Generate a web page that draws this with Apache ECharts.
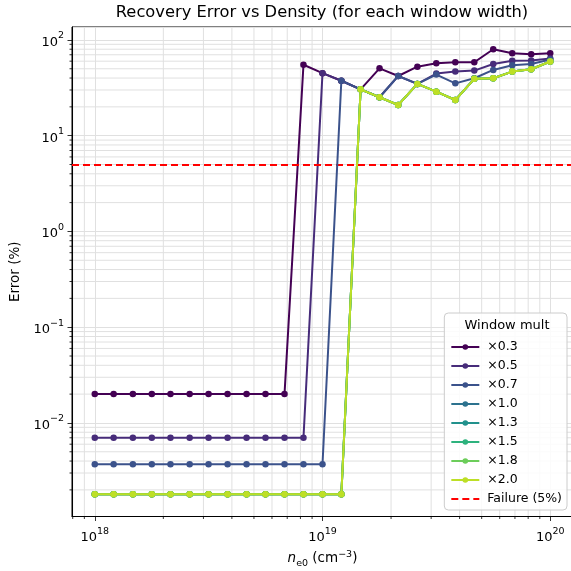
<!DOCTYPE html>
<html>
<head>
<meta charset="utf-8">
<script src="https://cdn.jsdelivr.net/npm/echarts@6/dist/echarts.min.js"></script>
<style>html,body{margin:0;padding:0;background:#fff}#c{width:571px;height:571px}</style>
</head>
<body>
<div id="c"></div>
<script>
// ---- data ----
const densities = [1e18, 1.21e18, 1.47e18, 1.78e18, 2.15e18, 2.61e18, 3.16e18, 3.83e18, 4.64e18, 5.62e18, 6.81e18, 8.25e18,
  1e19, 1.21e19, 1.47e19, 1.78e19, 2.15e19, 2.61e19, 3.16e19, 3.83e19, 4.64e19, 5.62e19, 6.81e19, 8.25e19, 1e20];
const seriesNames = ['×0.3', '×0.5', '×0.7', '×1.0', '×1.3', '×1.5', '×1.8', '×2.0'];
const err03 = [0.02, 0.02, 0.02, 0.02, 0.02, 0.02, 0.02, 0.02, 0.02, 0.02, 0.02, 55, 45, 37.5, 30.5, 50.5, 42, 52.5, 57, 58.5, 58.5, 80, 72.5, 71, 72.5];
const err05 = [0.007, 0.007, 0.007, 0.007, 0.007, 0.007, 0.007, 0.007, 0.007, 0.007, 0.007, 0.007, 45, 37.5, 30.5, 25.2, 42, 34.7, 44.5, 46.7, 47.8, 56, 60.5, 61, 64];
const err07 = [0.0037, 0.0037, 0.0037, 0.0037, 0.0037, 0.0037, 0.0037, 0.0037, 0.0037, 0.0037, 0.0037, 0.0037, 0.0037, 37.5, 30.5, 25.2, 42, 34.7, 43.5, 35.2, 39.8, 48.6, 54.5, 56, 62.5];
const err10 = [0.0018, 0.0018, 0.0018, 0.0018, 0.0018, 0.0018, 0.0018, 0.0018, 0.0018, 0.0018, 0.0018, 0.0018, 0.0018, 0.0018, 30.5, 25.2, 20.9, 34.7, 28.8, 23.6, 39.2, 39.8, 46.7, 49.4, 59.5];
const err13 = [0.0018, 0.0018, 0.0018, 0.0018, 0.0018, 0.0018, 0.0018, 0.0018, 0.0018, 0.0018, 0.0018, 0.0018, 0.0018, 0.0018, 30.5, 25.2, 20.9, 34.7, 28.8, 23.6, 39.2, 39.8, 46.7, 49.4, 59.5];
const err15 = [0.0018, 0.0018, 0.0018, 0.0018, 0.0018, 0.0018, 0.0018, 0.0018, 0.0018, 0.0018, 0.0018, 0.0018, 0.0018, 0.0018, 30.5, 25.2, 20.9, 34.7, 28.8, 23.6, 39.2, 39.8, 46.7, 49.4, 59.5];
const err18 = [0.0018, 0.0018, 0.0018, 0.0018, 0.0018, 0.0018, 0.0018, 0.0018, 0.0018, 0.0018, 0.0018, 0.0018, 0.0018, 0.0018, 30.5, 25.2, 20.9, 34.7, 28.8, 23.6, 39.2, 39.8, 46.7, 49.4, 59.5];
const err20 = [0.0018, 0.0018, 0.0018, 0.0018, 0.0018, 0.0018, 0.0018, 0.0018, 0.0018, 0.0018, 0.0018, 0.0018, 0.0018, 0.0018, 30.5, 25.2, 20.9, 34.7, 28.8, 23.6, 39.2, 39.8, 46.7, 49.4, 59.5];
const failureThreshold = 5;
const xMinorTicks = [8e17, 9e17, 2e18, 3e18, 4e18, 5e18, 6e18, 7e18, 8e18, 9e18, 2e19, 3e19, 4e19, 5e19, 6e19, 7e19, 8e19, 9e19];
const yMinorTicks = [2e-3, 3e-3, 4e-3, 5e-3, 6e-3, 7e-3, 8e-3, 9e-3, 2e-2, 3e-2, 4e-2, 5e-2, 6e-2, 7e-2, 8e-2, 9e-2,
  0.2, 0.3, 0.4, 0.5, 0.6, 0.7, 0.8, 0.9, 2, 3, 4, 5, 6, 7, 8, 9, 20, 30, 40, 50, 60, 70, 80, 90];
const xMin = Math.pow(10, 17.9), xMax = Math.pow(10, 20.1);
const yMin = Math.pow(10, -2.977), yMax = Math.pow(10, 2.135);

// ---- styling ----
const FONT = 'DejaVu Sans';
const colors = ['#440154', '#472c7a', '#3b528b', '#2c728e', '#21918c', '#2db27d', '#6ccd5a', '#bddf26'];
const GRIDC = '#e0e0e0';
const allErr = [err03, err05, err07, err10, err13, err15, err18, err20];

function powLabel(v) {
  const e = Math.log10(v);
  const r = Math.round(e);
  if (Math.abs(e - r) > 1e-6) return '';
  const s = r < 0 ? '\u2212' + (-r) : String(r);
  return '{b|10}{s|' + s + '}';
}
const richPow = {
  b: { fontSize: 13, fontFamily: FONT, color: '#000', lineHeight: 18, verticalAlign: 'bottom' },
  s: { fontSize: 9.5, fontFamily: FONT, color: '#000', lineHeight: 11, verticalAlign: 'top' }
};

function minorX(params, api) {
  const v = api.value(0);
  const p = api.coord([v, 1]);
  const cs = params.coordSys;
  const b = cs.y + cs.height;
  return { type: 'group', children: [
    { type: 'line', shape: { x1: p[0], y1: cs.y, x2: p[0], y2: b }, style: { stroke: GRIDC, lineWidth: 1 } },
    { type: 'line', shape: { x1: p[0], y1: b, x2: p[0], y2: b + 2.5 }, style: { stroke: '#000', lineWidth: 0.8 } }
  ] };
}
function minorY(params, api) {
  const v = api.value(1);
  const p = api.coord([1e19, v]);
  const cs = params.coordSys;
  return { type: 'group', children: [
    { type: 'line', shape: { x1: cs.x, y1: p[1], x2: cs.x + cs.width, y2: p[1] }, style: { stroke: GRIDC, lineWidth: 1 } },
    { type: 'line', shape: { x1: cs.x, y1: p[1], x2: cs.x - 2.5, y2: p[1] }, style: { stroke: '#000', lineWidth: 0.8 } }
  ] };
}

const series = [
  { type: 'custom', name: 'xminor', data: xMinorTicks.map(v => [v, 1]), renderItem: minorX, clip: false, silent: true, z: 0, encode: { x: 0, y: 1 } },
  { type: 'custom', name: 'yminor', data: yMinorTicks.map(v => [1e19, v]), renderItem: minorY, clip: false, silent: true, z: 0, encode: { x: 0, y: 1 } }
];
seriesNames.forEach((n, k) => {
  series.push({
    type: 'line', name: n,
    data: densities.map((d, i) => [d, allErr[k][i]]),
    symbol: 'circle', symbolSize: 6.5, showSymbol: true,
    lineStyle: { width: 2, color: colors[k] },
    itemStyle: { color: colors[k] },
    z: 3 + k
  });
});
series.push({
  type: 'line', name: 'Failure (5%)', data: [], symbol: 'none',
  lineStyle: { color: '#ff0000', type: [7, 4], width: 2 },
  itemStyle: { color: '#ff0000' },
  markLine: {
    silent: true, symbol: 'none', label: { show: false },
    lineStyle: { color: '#ff0000', type: [7, 4], width: 2 },
    data: [{ yAxis: failureThreshold }]
  },
  z: 2
});

const legendData = seriesNames.map(n => ({ name: n }));
legendData.push({ name: 'Failure (5%)', icon: 'path://M0,0h7v2h-7z M11,0h7v2h-7z M22,0h6v2h-6z', itemStyle: { color: '#ff0000' } });

const chart = echarts.init(document.getElementById('c'), null, { renderer: 'canvas' });
chart.setOption({
  animation: false,
  backgroundColor: '#ffffff',
  textStyle: { fontFamily: FONT },
  title: [
    { text: 'Recovery Error vs Density (for each window width)', left: 322, top: 5, textAlign: 'center', padding: 0,
      textStyle: { fontFamily: FONT, fontSize: 16.3, fontWeight: 'normal', color: '#000' } },
    { text: 'Window mult', left: 507, top: 319, textAlign: 'center', padding: 0, z: 10,
      textStyle: { fontFamily: FONT, fontSize: 13, fontWeight: 'normal', color: '#000' } }
  ],
  grid: { left: 72, right: -2, top: 27, bottom: 54.5, show: true, borderColor: '#000', borderWidth: 1, backgroundColor: 'transparent',
    outerBoundsMode: 'none', containLabel: false },
  legend: {
    data: legendData,
    orient: 'vertical', right: 4, top: 313,
    padding: [27, 5, 4, 6], itemGap: 5, itemWidth: 28, itemHeight: 7,
    backgroundColor: 'rgba(255,255,255,0.85)', borderColor: '#cccccc', borderWidth: 1, borderRadius: 4,
    textStyle: { fontFamily: FONT, fontSize: 12.5, color: '#000', lineHeight: 14, padding: [0, 0, 0, 3] },
    z: 9
  },
  xAxis: {
    type: 'log', logBase: 10, min: xMin, max: xMax,
    name: '{i|n}{sub|e0}{t| (cm}{sup|\u22123}{t|)}', nameLocation: 'middle', nameGap: 33,
    nameTextStyle: { rich: {
      i: { fontFamily: FONT, fontSize: 13.5, fontStyle: 'italic', color: '#000', lineHeight: 18, verticalAlign: 'middle' },
      sub: { fontFamily: FONT, fontSize: 9.5, color: '#000', lineHeight: 11, verticalAlign: 'bottom', padding: [0, 0, -1, 0] },
      t: { fontFamily: FONT, fontSize: 13.5, color: '#000', lineHeight: 18, verticalAlign: 'middle' },
      sup: { fontFamily: FONT, fontSize: 9.5, color: '#000', lineHeight: 11, verticalAlign: 'top' }
    } },
    axisLine: { show: true, lineStyle: { color: '#000', width: 1 } },
    axisTick: { show: true, length: 4.5, lineStyle: { color: '#000', width: 0.8 } },
    axisLabel: { margin: 10, formatter: powLabel, rich: richPow, showMinLabel: false, showMaxLabel: false },
    splitLine: { show: true, lineStyle: { color: GRIDC, width: 1 } }
  },
  yAxis: {
    type: 'log', logBase: 10, min: yMin, max: yMax,
    name: 'Error (%)', nameLocation: 'middle', nameGap: 46,
    nameTextStyle: { fontFamily: FONT, fontSize: 13.5, color: '#000' },
    axisLine: { show: true, lineStyle: { color: '#000', width: 1 } },
    axisTick: { show: true, length: 4.5, lineStyle: { color: '#000', width: 0.8 } },
    axisLabel: { margin: 8, formatter: powLabel, rich: richPow, showMinLabel: false, showMaxLabel: false },
    splitLine: { show: true, lineStyle: { color: GRIDC, width: 1 } }
  },
  series: series
});
</script>
</body>
</html>
